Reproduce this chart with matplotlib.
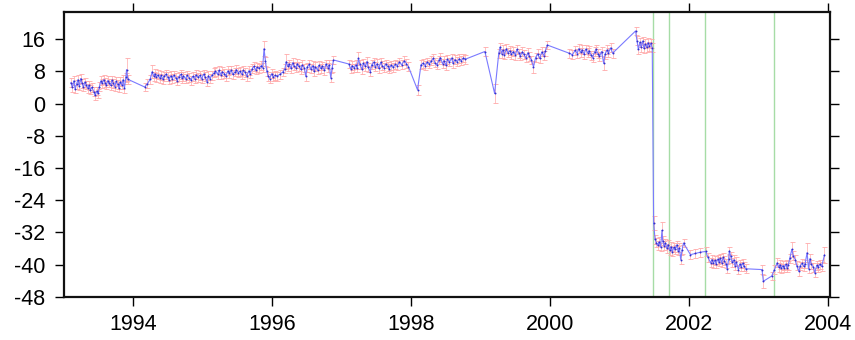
import matplotlib
matplotlib.use("Agg")
import matplotlib.pyplot as plt

# decimal year epochs and displacement (mm)
epoch = [
    1993.10, 1993.12, 1993.14, 1993.16, 1993.18, 1993.20, 1993.22, 1993.24, 1993.26, 1993.28,
    1993.30, 1993.32, 1993.34, 1993.36, 1993.38, 1993.40, 1993.43, 1993.45, 1993.47, 1993.49,
    1993.51, 1993.53, 1993.55, 1993.57, 1993.59, 1993.61, 1993.63, 1993.65, 1993.67, 1993.69,
    1993.71, 1993.73, 1993.75, 1993.77, 1993.79, 1993.81, 1993.83, 1993.85, 1993.87, 1993.89,
    1993.90, 1993.92,
    1994.16, 1994.20, 1994.24, 1994.27, 1994.29, 1994.31, 1994.33, 1994.35, 1994.38, 1994.40,
    1994.42, 1994.44, 1994.47, 1994.49, 1994.51, 1994.54, 1994.56, 1994.58, 1994.61, 1994.63,
    1994.65, 1994.68, 1994.70, 1994.72, 1994.75, 1994.77, 1994.80, 1994.83, 1994.85, 1994.88,
    1994.90, 1994.93, 1994.96, 1994.98, 1995.01, 1995.03, 1995.06, 1995.08, 1995.10, 1995.13,
    1995.16, 1995.18, 1995.21, 1995.23, 1995.26, 1995.28, 1995.31, 1995.33, 1995.36, 1995.38,
    1995.41, 1995.43, 1995.46, 1995.48, 1995.51, 1995.53, 1995.56, 1995.58, 1995.61, 1995.63,
    1995.66, 1995.68, 1995.71, 1995.73, 1995.76, 1995.78, 1995.81, 1995.84, 1995.86, 1995.88,
    1995.90, 1995.92, 1995.94, 1995.96, 1995.99, 1996.01, 1996.04, 1996.07, 1996.11, 1996.15,
    1996.18, 1996.20, 1996.22, 1996.24, 1996.27, 1996.29, 1996.31, 1996.34, 1996.36, 1996.38,
    1996.41, 1996.43, 1996.46, 1996.48, 1996.50, 1996.53, 1996.55, 1996.58, 1996.60, 1996.62,
    1996.65, 1996.67, 1996.70, 1996.72, 1996.75, 1996.77, 1996.80, 1996.82, 1996.84, 1996.86,
    1996.88,
    1997.10, 1997.13, 1997.15, 1997.18, 1997.20, 1997.22, 1997.24, 1997.26, 1997.29, 1997.31,
    1997.34, 1997.36, 1997.38, 1997.41, 1997.43, 1997.46, 1997.48, 1997.51, 1997.53, 1997.56,
    1997.58, 1997.61, 1997.63, 1997.66, 1997.68, 1997.71, 1997.74, 1997.77, 1997.80, 1997.83,
    1997.86, 1997.90, 1997.93, 1997.96,
    1998.09, 1998.14, 1998.17, 1998.20, 1998.23, 1998.26, 1998.29, 1998.32, 1998.34, 1998.37,
    1998.40, 1998.42, 1998.45, 1998.47, 1998.50, 1998.52, 1998.55, 1998.58, 1998.60, 1998.63,
    1998.66, 1998.69, 1998.72, 1998.75, 1998.78,
    1999.06, 1999.20, 1999.26, 1999.28, 1999.30, 1999.32, 1999.34, 1999.37, 1999.39, 1999.42,
    1999.44, 1999.47, 1999.50, 1999.52, 1999.55, 1999.57, 1999.60, 1999.62, 1999.65, 1999.68,
    1999.70, 1999.73, 1999.76, 1999.79, 1999.82, 1999.85, 1999.88, 1999.91, 1999.93, 1999.96,
    2000.27, 2000.32, 2000.36, 2000.39, 2000.41, 2000.44, 2000.46, 2000.49, 2000.51, 2000.54,
    2000.56, 2000.59, 2000.61, 2000.64, 2000.66, 2000.69, 2000.71, 2000.74, 2000.77, 2000.79,
    2000.82, 2000.84, 2000.87, 2000.90,
    2001.23, 2001.25, 2001.27, 2001.29, 2001.31, 2001.33, 2001.35, 2001.37, 2001.39, 2001.41,
    2001.43, 2001.45, 2001.47,
    2001.49, 2001.51, 2001.53, 2001.55, 2001.57, 2001.59, 2001.61, 2001.62, 2001.64, 2001.66,
    2001.68, 2001.70, 2001.72, 2001.74, 2001.76, 2001.78, 2001.80, 2001.82, 2001.84, 2001.86,
    2001.88, 2001.90, 2001.92, 2002.02, 2002.09, 2002.16, 2002.24, 2002.27, 2002.31, 2002.33,
    2002.35, 2002.37, 2002.39, 2002.41, 2002.43, 2002.45, 2002.47, 2002.49, 2002.51, 2002.53,
    2002.55, 2002.57, 2002.58, 2002.60, 2002.62, 2002.64, 2002.66, 2002.68, 2002.71, 2002.73,
    2002.75, 2002.77, 2002.79, 2002.82, 2003.05, 2003.07, 2003.19, 2003.23, 2003.27, 2003.29,
    2003.31, 2003.33, 2003.35, 2003.37, 2003.39, 2003.41, 2003.43, 2003.45, 2003.48, 2003.50,
    2003.53, 2003.55, 2003.58, 2003.60, 2003.63, 2003.65, 2003.67, 2003.70, 2003.72, 2003.74,
    2003.76, 2003.79, 2003.81, 2003.84, 2003.86, 2003.88, 2003.91, 2003.95,
]
disp = [
    5.2, 4.0, 5.6, 3.6, 4.8, 5.9, 4.4, 6.2, 5.0, 4.1,
    5.3, 4.6, 3.8, 4.5, 3.4, 4.0, 2.9, 2.0, 3.1, 2.5,
    4.2, 5.6, 5.0, 5.9, 5.2, 4.6, 5.7, 5.1, 4.5, 5.8,
    5.0, 4.2, 5.5, 4.8, 3.9, 5.4, 4.6, 5.9, 3.8, 6.5,
    8.4, 6.0,
    4.1, 4.9, 6.0, 7.9, 6.8, 7.4, 6.5, 7.1, 6.3, 7.0,
    6.0, 6.8, 7.3, 6.6, 5.9, 6.9, 6.2, 7.0, 6.4, 5.7,
    6.6, 7.2, 6.3, 6.8, 6.1, 7.0, 6.4, 5.8, 6.7, 6.2,
    7.1, 6.5, 7.0, 6.1, 7.3, 6.6, 5.4, 6.9, 6.2, 7.0,
    7.6, 8.0, 7.3, 8.2, 7.1, 7.9, 7.4, 6.8, 8.1, 7.5,
    8.3, 7.2, 7.8, 8.4, 7.6, 8.0, 7.3, 8.2, 7.7, 6.8,
    8.1, 7.4, 8.6, 9.2, 8.3, 9.0, 8.7, 9.4, 8.9, 13.6,
    10.5, 8.0, 6.8, 6.2, 7.4, 6.6, 7.0, 6.8, 7.3, 7.8,
    8.6, 10.4, 9.2, 9.8, 8.7, 10.1, 9.3, 8.9, 9.9, 9.2,
    8.5, 9.6, 8.8, 6.8, 9.0, 9.7, 8.6, 9.4, 8.0, 9.1,
    8.3, 9.5, 8.7, 9.3, 8.2, 9.8, 8.9, 9.6, 6.4, 8.8,
    10.8,
    9.8, 8.6, 9.4, 8.8, 9.6, 8.9, 11.2, 9.7, 8.5, 10.0,
    9.2, 10.4, 9.0, 7.9, 9.6, 10.3, 9.1, 9.9, 8.7, 10.2,
    9.4, 8.9, 9.8, 9.2, 8.6, 9.5, 9.0, 9.7, 9.4, 10.3,
    9.6, 10.6, 9.9, 9.1,
    3.4, 9.6, 10.0, 9.4, 10.3, 9.8, 10.6, 11.2, 10.1, 9.6,
    10.8, 11.4, 9.9, 10.6, 9.5, 11.0, 10.3, 11.3, 10.0, 10.9,
    10.4, 11.1, 10.6, 11.3, 11.0,
    12.9, 2.5, 12.5, 14.0, 12.4, 13.3, 12.1, 13.6, 12.6, 13.1,
    12.2, 12.9, 12.0, 13.4, 12.5, 11.8, 12.8, 12.2, 11.3, 12.6,
    11.7, 10.8, 9.1, 11.4, 12.3, 11.2, 12.8, 11.9, 13.0, 14.5,
    12.5, 12.1, 13.2, 12.4, 13.6, 12.7, 13.3, 12.2, 13.5, 12.6,
    13.1, 12.0, 11.4, 12.8, 13.4, 12.3, 11.7, 12.9, 10.0, 12.2,
    13.3, 12.6, 13.8, 12.5,
    18.0, 15.6, 13.4, 15.2, 14.0, 15.5, 13.7, 14.8, 13.9, 15.1,
    14.2, 14.9, 13.8,
    -29.6, -33.7, -34.5, -35.2, -34.3, -35.6, -31.5, -34.0, -35.3, -34.6,
    -35.9, -35.0, -36.4, -35.5, -36.8, -35.7, -36.2, -35.1, -36.5, -35.8,
    -38.7, -36.3, -34.6, -37.5, -37.2, -36.9, -36.7, -38.1, -39.5, -38.7,
    -39.6, -38.9, -39.8, -38.6, -39.3, -38.4, -39.5, -38.2, -39.0, -39.7,
    -41.0, -38.5, -36.6, -37.9, -39.4, -38.8, -40.2, -39.3, -41.2, -39.8,
    -40.5, -39.6, -40.4, -41.0, -41.2, -44.1, -42.8, -41.2, -39.5, -40.6,
    -40.0, -40.9, -40.2, -40.8, -39.9, -40.7, -40.1, -38.4, -36.2, -37.8,
    -38.7, -40.2, -41.6, -40.3, -39.6, -40.4, -39.8, -37.0, -41.0, -38.5,
    -39.9, -40.6, -42.0, -40.1, -40.6, -39.9, -40.4, -37.6,
]
sigma_mm = 1.1
sigma_large = {1993.90: 2.8, 1995.88: 1.8, 1996.20: 1.8, 1999.20: 2.4,
               2001.49: 1.8, 2001.61: 2.0, 2003.48: 1.8, 2003.70: 2.4,
               2003.95: 2.0, 2003.07: 1.6, 1994.27: 1.6, 1997.24: 1.6,
               1998.09: 1.2, 2000.77: 1.6, 1999.76: 1.5}
events = [2001.476, 2001.717, 2002.225, 2003.223]
yticks = [16, 8, 0, -8, -16, -24, -32, -40, -48]
xticks = [1994, 1996, 1998, 2000, 2002, 2004]

plt.rcParams["font.family"] = ["Liberation Sans", "DejaVu Sans"]
plt.rcParams["axes.unicode_minus"] = False

sigma = [sigma_large.get(t, sigma_mm) for t in epoch]

fig = plt.figure(figsize=(8.55, 3.4), dpi=100)
ax = fig.add_axes([0.0749, 0.1265, 0.8959, 0.8382])

for t in events:
    ax.axvline(t, color="#a6dca6", linewidth=1.0, zorder=1)

ax.errorbar(epoch, disp, yerr=sigma, fmt="none", ecolor="#ffa8a8",
            elinewidth=0.5, capsize=1.8, capthick=0.6, zorder=2)
ax.plot(epoch, disp, color="#7a7aff", linewidth=0.8, zorder=3)
ax.plot(epoch, disp, "o", color="#2f2fd0", markersize=1.4,
        markeredgewidth=0, zorder=4)

ax.set_xlim(1993.0, 2004.03)
ax.set_ylim(-48, 22.7)
ax.set_xticks(xticks)
ax.set_yticks(yticks)
ax.tick_params(axis="both", direction="out", length=6.5, width=1.0,
               labelsize=15.5, top=True, right=True,
               labeltop=False, labelright=False)
ax.tick_params(axis="x", pad=6)
ax.tick_params(axis="y", pad=7)
for side in ax.spines.values():
    side.set_linewidth(1.6)
    side.set_color("#111111")

fig.savefig("out.png", dpi=100)
